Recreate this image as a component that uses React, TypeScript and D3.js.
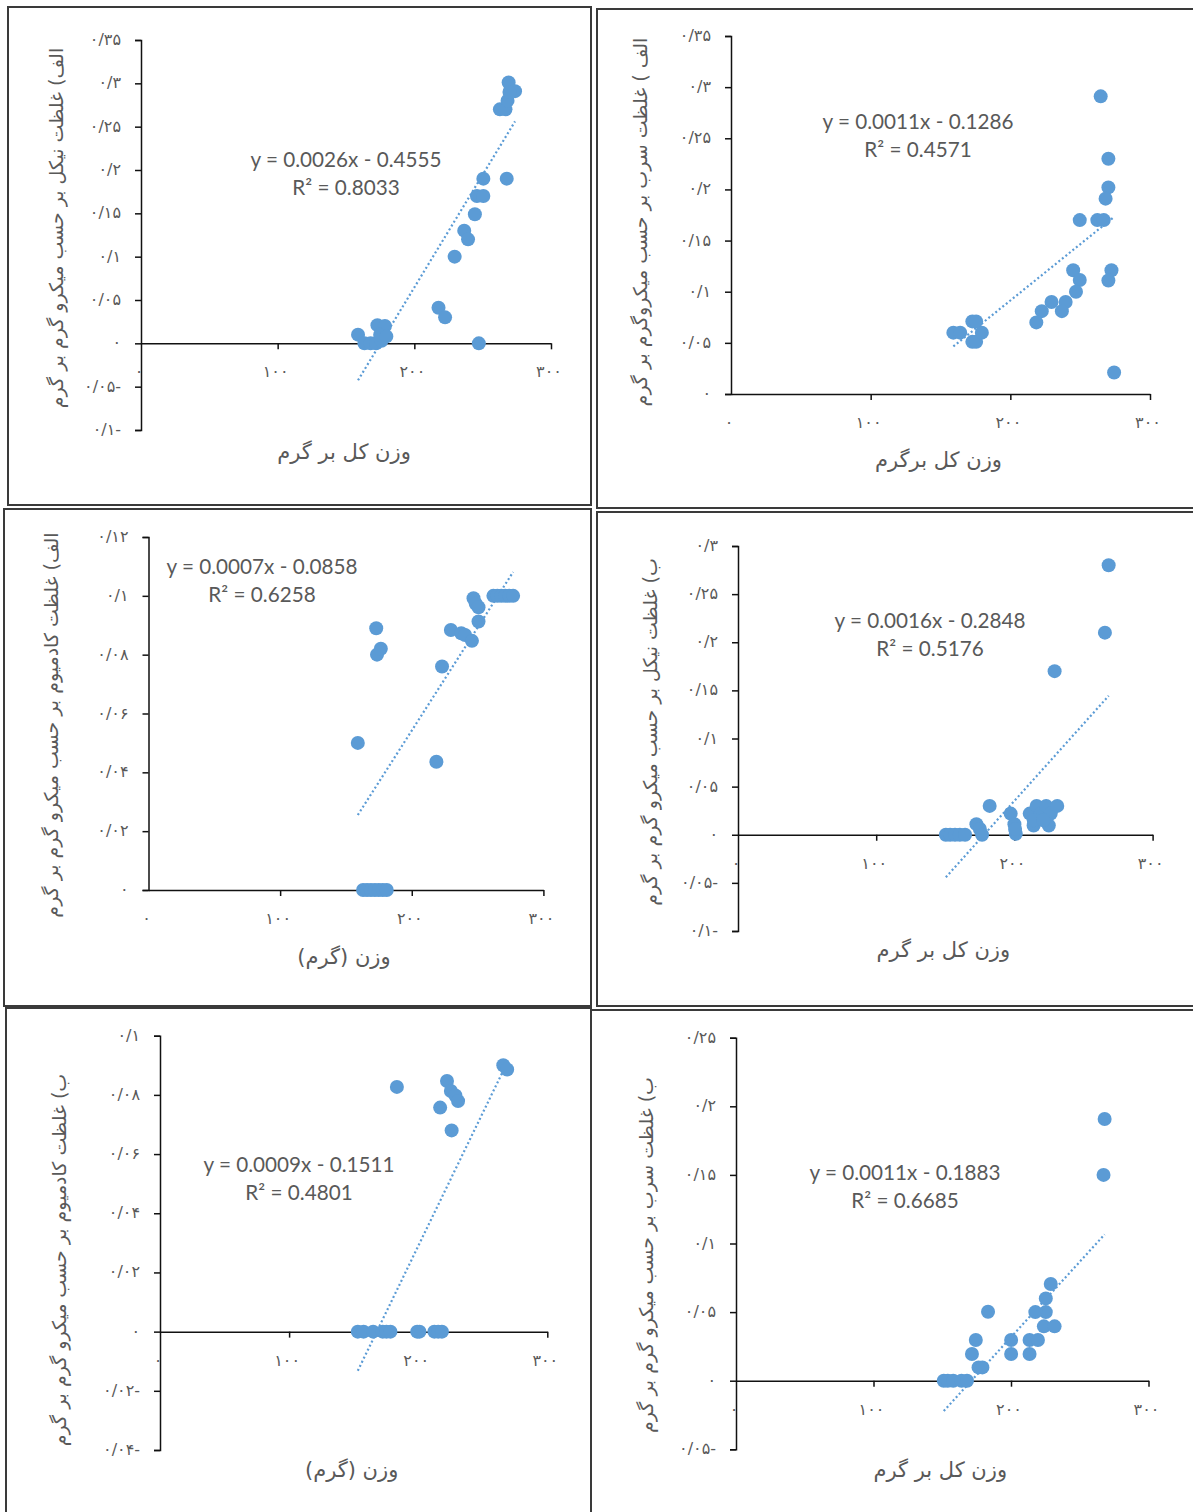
import { useEffect, useRef } from "react";
import * as d3 from "d3";

// ---- data ----
const xTicks = [0, 100, 200, 300];

const p1Weight = [158.8, 163.5, 168, 172, 176, 173, 178.5, 175, 179.5, 217.7, 222.5, 229.5, 236.5, 239.3, 244.3, 245.8, 250.5, 250.5, 247.2, 267.6, 262.6, 266.7, 268.2, 269, 273.7, 269.6];
const p1Nickel = [0.01, 0, 0, 0, 0.003, 0.021, 0.02, 0.01, 0.008, 0.041, 0.03, 0.1, 0.13, 0.12, 0.149, 0.17, 0.17, 0.19, 0, 0.19, 0.27, 0.27, 0.28, 0.301, 0.291, 0.29];
const p1YTicks = [-0.1, -0.05, 0, 0.05, 0.1, 0.15, 0.2, 0.25, 0.3, 0.35];

const p2Weight = [264.7, 270.2, 270.2, 268.2, 249.7, 262.3, 266.9, 245, 249.7, 247, 272.4, 270.2, 239.6, 229.5, 236.9, 222.5, 218.6, 274.3, 159.2, 164.1, 172.8, 175.5, 172.8, 175.5, 179.6];
const p2Lead = [0.291, 0.23, 0.202, 0.191, 0.17, 0.17, 0.17, 0.121, 0.1115, 0.1, 0.121, 0.111, 0.09, 0.09, 0.081, 0.081, 0.07, 0.021, 0.06, 0.06, 0.071, 0.071, 0.051, 0.051, 0.06];
const p2YTicks = [0, 0.05, 0.1, 0.15, 0.2, 0.25, 0.3, 0.35];

const p3Weight = [173, 173.6, 176.5, 159, 218.7, 223, 229.7, 237.6, 240.5, 245.7, 250.7, 246.9, 248.6, 250.7, 262, 265, 268, 271, 274, 277, 163, 166, 169, 172, 175, 178, 181];
const p3Cadmium = [0.089, 0.08, 0.082, 0.05, 0.0436, 0.076, 0.0884, 0.0873, 0.0867, 0.0847, 0.0913, 0.0992, 0.0973, 0.0961, 0.1, 0.1, 0.1, 0.1, 0.1, 0.1, 0, 0, 0, 0, 0, 0, 0];
const p3YTicks = [0, 0.02, 0.04, 0.06, 0.08, 0.1, 0.12];

const p4Weight = [268.2, 265.5, 229.1, 182.1, 197.3, 200, 201, 200.5, 172.5, 175, 176.6, 150.4, 153.5, 157, 160.5, 164.3, 211.1, 213.9, 216.1, 219, 223, 224.9, 226.3, 231, 214, 221];
const p4Nickel = [0.28, 0.21, 0.17, 0.03, 0.022, 0.011, 0.001, 0.006, 0.011, 0.006, 0, 0, 0, 0, 0, 0, 0.022, 0.0096, 0.03, 0.022, 0.03, 0.0096, 0.022, 0.03, 0.015, 0.015];
const p4YTicks = [-0.1, -0.05, 0, 0.05, 0.1, 0.15, 0.2, 0.25, 0.3];

const p5Weight = [183.5, 222.3, 217, 225.3, 228.8, 230.9, 225.9, 265.9, 268.9, 153.2, 157.7, 165.1, 172.5, 175.4, 178.5, 199.2, 201, 212.5, 215.5, 218.4];
const p5Cadmium = [0.0827, 0.0847, 0.0757, 0.0813, 0.0798, 0.0779, 0.068, 0.09, 0.0886, 0, 0, 0, 0, 0, 0, 0, 0, 0, 0, 0];
const p5YTicks = [-0.04, -0.02, 0, 0.02, 0.04, 0.06, 0.08, 0.1];

const p6Weight = [268.1, 267.3, 228.9, 225.3, 225.3, 217.7, 223.9, 231.7, 213.5, 219.6, 213.5, 200.1, 200.1, 183.3, 174.4, 171.6, 176.4, 179.2, 151.1, 154, 158, 164, 168];
const p6Lead = [0.1907, 0.15, 0.0705, 0.06, 0.05, 0.05, 0.0396, 0.0396, 0.0297, 0.0297, 0.0195, 0.0297, 0.0195, 0.0503, 0.0297, 0.0195, 0.0097, 0.0097, 0, 0, 0, 0, 0];
const p6YTicks = [-0.05, 0, 0.05, 0.1, 0.15, 0.2, 0.25];

const slopes = [0.0026, 0.0011, 0.0007, 0.0016, 0.0009, 0.0011];
const intercepts = [-0.4555, -0.1286, -0.0858, -0.2848, -0.1511, -0.1883];
const equations = ["y = 0.0026x - 0.4555", "y = 0.0011x - 0.1286", "y = 0.0007x - 0.0858", "y = 0.0016x - 0.2848", "y = 0.0009x - 0.1511", "y = 0.0011x - 0.1883"];
const rSquared = ["R² = 0.8033", "R² = 0.4571", "R² = 0.6258", "R² = 0.5176", "R² = 0.4801", "R² = 0.6685"];

const yTitles = [
  "الف) غلظت نیکل بر حسب میکرو گرم بر گرم",
  "الف ) غلظت سرب بر حسب میکروگرم بر گرم",
  "الف) غلظت کادمیوم بر حسب میکرو گرم بر گرم",
  "ب) غلظت نیکل بر حسب میکرو گرم بر گرم",
  "ب) غلظت کادمیوم بر حسب میکرو گرم بر گرم",
  "ب) غلظت سرب بر حسب میکرو گرم بر گرم",
];
const xTitles = ["وزن کل بر گرم", "وزن کل برگرم", "وزن (گرم)", "وزن کل بر گرم", "وزن (گرم)", "وزن کل بر گرم"];

const xs = [p1Weight, p2Weight, p3Weight, p4Weight, p5Weight, p6Weight];
const ys = [p1Nickel, p2Lead, p3Cadmium, p4Nickel, p5Cadmium, p6Lead];
const yTickSets = [p1YTicks, p2YTicks, p3YTicks, p4YTicks, p5YTicks, p6YTicks];

// ---- layout of each panel on the page ----
const layout = [
  { frame: [8, 7, 583, 498], x: [141, 551], y: [430, 40], yt: [57, 228], xt: 452, eq: [346, 160] },
  { frame: [597, 9, 600, 499], x: [731, 1150], y: [394, 36], yt: [641, 222], xt: 460, eq: [918, 122] },
  { frame: [4, 509, 587, 497], x: [148.5, 543.4], y: [890, 537], yt: [52, 725], xt: 957, eq: [262, 567] },
  { frame: [597, 512, 600, 494], x: [738, 1152.6], y: [931, 546], yt: [651, 732], xt: 950, eq: [930, 621] },
  { frame: [6, 1008, 585, 510], x: [160, 547.3], y: [1450, 1035.7], yt: [60, 1260], xt: 1470, eq: [299, 1165] },
  { frame: [591, 1010, 606, 510], x: [736, 1148.5], y: [1449.3, 1037.7], yt: [647, 1255], xt: 1470, eq: [905, 1173] },
];

const W = 1193;
const H = 1512;
const BLUE = "#5b9bd5";
const GREY = "#595959";
const FA = "DejaVu Sans, sans-serif";

const faDigits = "۰۱۲۳۴۵۶۷۸۹";
function persian(v: number) {
  const s = String(+Math.abs(v).toFixed(3))
    .replace(".", "/")
    .replace(/\d/g, (d) => faDigits[+d]);
  return v < 0 ? s + "-" : s;
}

export default function App() {
  const ref = useRef<SVGSVGElement>(null);

  useEffect(() => {
    if (!ref.current) return;
    const svg = d3.select(ref.current);
    svg.selectAll("*").remove();

    layout.forEach((L, i) => {
      const g = svg.append("g");
      const ticks = yTickSets[i];
      const x = d3.scaleLinear().domain([0, 300]).range(L.x);
      const y = d3.scaleLinear().domain([ticks[0], ticks[ticks.length - 1]]).range(L.y);

      g.append("rect")
        .attr("x", L.frame[0])
        .attr("y", L.frame[1])
        .attr("width", L.frame[2])
        .attr("height", L.frame[3])
        .attr("fill", "white")
        .attr("stroke", "#3a3a3a")
        .attr("stroke-width", 2);

      // x axis sits on y = 0
      const xAxis = g
        .append("g")
        .attr("transform", `translate(0,${y(0)})`)
        .call(d3.axisBottom(x).tickValues(xTicks).tickSize(6).tickSizeOuter(0).tickFormat(() => ""));
      xAxis.select(".domain").attr("stroke", "#111").attr("stroke-width", 1.5);
      xAxis.selectAll(".tick line").attr("stroke", "#111").attr("stroke-width", 1.5);
      xAxis.selectAll(".tick").filter((d: any) => d === 0).select("line").remove();

      g.selectAll(".xlab")
        .data(xTicks)
        .join("text")
        .attr("x", (d) => x(d) - 2)
        .attr("y", y(0) + 34)
        .attr("text-anchor", "middle")
        .attr("font-family", FA)
        .attr("font-size", 16)
        .attr("letter-spacing", 3)
        .attr("fill", GREY)
        .text((d) => persian(d));

      const yAxis = g
        .append("g")
        .attr("transform", `translate(${L.x[0]},0)`)
        .call(d3.axisLeft(y).tickValues(ticks).tickSize(6).tickSizeOuter(6).tickFormat(() => ""));
      yAxis.select(".domain").attr("stroke", "#111").attr("stroke-width", 1.5);
      yAxis.selectAll(".tick line").attr("stroke", "#111").attr("stroke-width", 1.5);

      g.selectAll(".ylab")
        .data(ticks)
        .join("text")
        .attr("x", L.x[0] - 20)
        .attr("y", (d) => y(d) + 5)
        .attr("text-anchor", "end")
        .attr("direction", "ltr")
        .attr("font-family", FA)
        .attr("font-size", 16)
        .attr("letter-spacing", 0.5)
        .attr("fill", GREY)
        .text((d) => persian(d));

      // trend line from the fitted equation over the data's x extent
      const [x0, x1] = d3.extent(xs[i]) as [number, number];
      g.append("line")
        .attr("x1", x(x0))
        .attr("y1", y(slopes[i] * x0 + intercepts[i]))
        .attr("x2", x(x1))
        .attr("y2", y(slopes[i] * x1 + intercepts[i]))
        .attr("stroke", BLUE)
        .attr("stroke-width", 2.2)
        .attr("stroke-dasharray", "2 2.5");

      g.selectAll(".pt")
        .data(xs[i].map((v, k) => [v, ys[i][k]]))
        .join("circle")
        .attr("cx", (d) => x(d[0]))
        .attr("cy", (d) => y(d[1]))
        .attr("r", 7)
        .attr("fill", BLUE);

      g.append("text")
        .attr("x", L.eq[0])
        .attr("y", L.eq[1] + 7)
        .attr("text-anchor", "middle")
        .attr("font-family", "Lato, sans-serif")
        .attr("font-size", 20.7)
        .attr("fill", GREY)
        .text(equations[i]);
      g.append("text")
        .attr("x", L.eq[0])
        .attr("y", L.eq[1] + 35)
        .attr("text-anchor", "middle")
        .attr("font-family", "Lato, sans-serif")
        .attr("font-size", 20.7)
        .attr("fill", GREY)
        .text(rSquared[i]);

      g.append("text")
        .attr("transform", `translate(${L.yt[0] + 6},${L.yt[1]}) rotate(-90)`)
        .attr("text-anchor", "middle")
        .attr("font-family", FA)
        .attr("font-size", 19)
        .attr("fill", GREY)
        .text(yTitles[i]);

      g.append("text")
        .attr("x", (L.x[0] + L.x[1]) / 2 - 2)
        .attr("y", L.xt + 7)
        .attr("text-anchor", "middle")
        .attr("font-family", FA)
        .attr("font-size", 21)
        .attr("fill", GREY)
        .text(xTitles[i]);
    });
  }, []);

  return (
    <svg
      ref={ref}
      width={W}
      height={H}
      viewBox={`0 0 ${W} ${H}`}
      style={{ position: "absolute", left: 0, top: 0, background: "white" }}
    />
  );
}
